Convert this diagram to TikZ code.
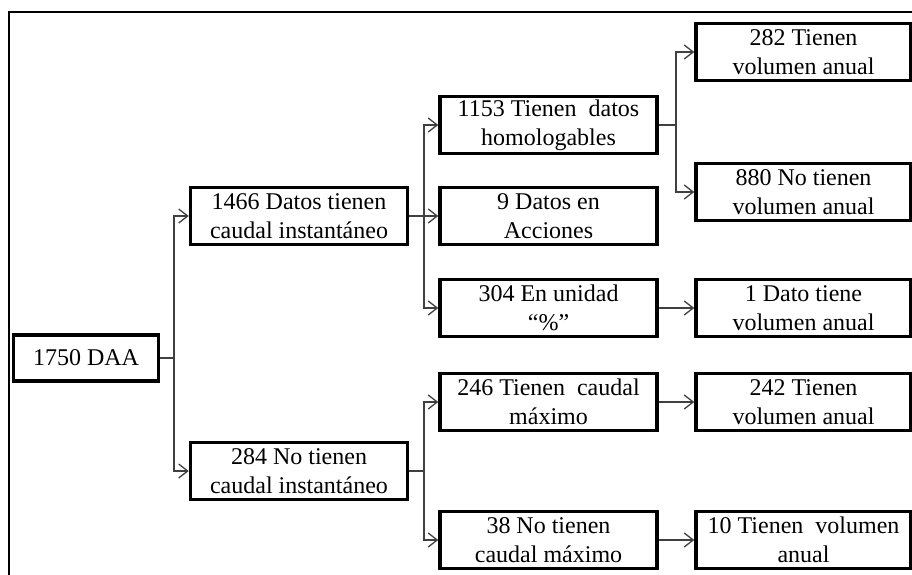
\documentclass[tikz,border=0pt]{standalone}
\usepackage{fontspec}
\setmainfont{Liberation Serif}
\usetikzlibrary{arrows.meta,positioning}

\begin{document}
\begin{tikzpicture}[x=1pt, y=-1pt,
        box/.style={draw=black, line width=3.5pt, fill=white, inner sep=0pt, align=center,
            minimum width=217pt, minimum height=57pt,
            font=\fontsize{24}{29}\selectfont},
        link/.style={draw=black!75, line width=1.3pt, -{Straight Barb[length=9pt,width=14pt,line width=1.3pt]}},
        stem/.style={draw=black!75, line width=1.3pt}]
        \useasboundingbox (0,0) rectangle (912,575);
        \draw[line width=1.5pt] (9,575) -- (9,12) -- (912,12);

        \node[box, minimum width=145pt, minimum height=46pt] (root) at (86,358) {1750 DAA};

        \node[box] (d1466) at (299,216) {1466 Datos tienen\\caudal instantáneo};
        \node[box] (d284)  at (299,471) {284 No tienen\\caudal instantáneo};

        \node[box] (d1153) at (548.5,125) {1153 Tienen\ \ datos\\homologables};
        \node[box] (d9)    at (548.5,216) {9 Datos en\\Acciones};
        \node[box] (d304)  at (548.5,308) {304 En unidad\\“\%”};
        \node[box] (d246)  at (548.5,402) {246 Tienen\ \ caudal\\máximo};
        \node[box] (d38)   at (548.5,540) {38 No tienen\\caudal máximo};

        \node[box, minimum width=215pt] (v282) at (803.5,52)  {282 Tienen\\volumen anual};
        \node[box, minimum width=215pt] (v880) at (803.5,192) {880 No tienen\\volumen anual};
        \node[box, minimum width=215pt] (v1)   at (803.5,308) {1 Dato tiene\\volumen anual};
        \node[box, minimum width=215pt] (v242) at (803.5,402) {242 Tienen\\volumen anual};
        \node[box, minimum width=215pt] (v10)  at (803.5,540) {10 Tienen\ \ volumen\\anual};

        \coordinate (j0) at (174,358);
        \coordinate (j1) at (424,216);
        \coordinate (j2) at (424,471);
        \coordinate (j3) at (676,125);

        \draw[stem] (root) -- (j0);
        \draw[link] (j0) |- (d1466);
        \draw[link] (j0) |- (d284);

        \draw[stem] (d1466) -- (j1);
        \draw[link] (j1) |- (d1153);
        \draw[link] (j1) -- (d9);
        \draw[link] (j1) |- (d304);

        \draw[stem] (d284) -- (j2);
        \draw[link] (j2) |- (d246);
        \draw[link] (j2) |- (d38);

        \draw[stem] (d1153) -- (j3);
        \draw[link] (j3) |- (v282);
        \draw[link] (j3) |- (v880);

        \draw[link] (d304) -- (v1);
        \draw[link] (d246) -- (v242);
        \draw[link] (d38) -- (v10);
\end{tikzpicture}
\end{document}
